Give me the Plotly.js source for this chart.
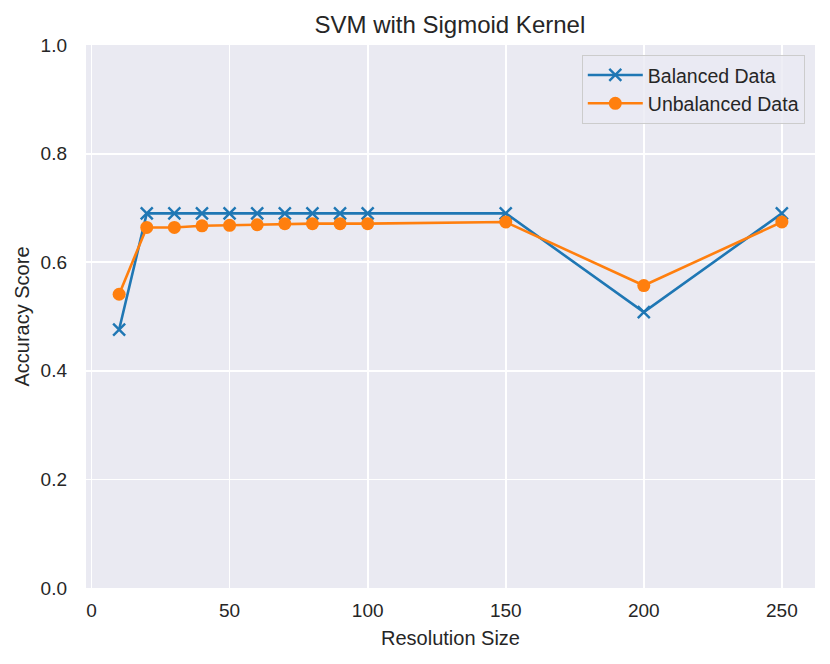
<!DOCTYPE html>
<html>
<head>
<meta charset="utf-8">
<script src="https://cdn.plot.ly/plotly-3.0.1.min.js"></script>
<style>html,body{margin:0;padding:0;background:#fff;}#chart{width:830px;height:664px;}</style>
</head>
<body>
<div id="chart"></div>
<script>
const resolution = [10, 20, 30, 40, 50, 60, 70, 80, 90, 100, 150, 200, 250];
const balanced = [0.476, 0.690, 0.690, 0.690, 0.690, 0.690, 0.690, 0.690, 0.690, 0.690, 0.690, 0.508, 0.690];
const unbalanced = [0.541, 0.664, 0.664, 0.667, 0.668, 0.669, 0.671, 0.671, 0.671, 0.671, 0.674, 0.557, 0.674];
const seriesNames = ["Balanced Data", "Unbalanced Data"];

const font = "Liberation Sans, Arial, sans-serif";
const data = [
  {x: resolution, y: balanced, name: seriesNames[0], mode: "lines+markers",
   line: {color: "#1f77b4", width: 2.6},
   marker: {symbol: "x-thin", size: 12, color: "#1f77b4", line: {color: "#1f77b4", width: 2.4}}},
  {x: resolution, y: unbalanced, name: seriesNames[1], mode: "lines+markers",
   line: {color: "#ff7f0e", width: 2.6},
   marker: {symbol: "circle", size: 13, color: "#ff7f0e"}}
];
const layout = {
  width: 830, height: 664,
  margin: {l: 86, r: 15, t: 45, b: 76},
  paper_bgcolor: "#ffffff", plot_bgcolor: "#EAEAF2",
  font: {family: font, color: "#262626", size: 19},
  title: {text: "SVM with Sigmoid Kernel", font: {size: 24, color: "#262626"}, x: 0.542, xanchor: "center", y: 0.963, yanchor: "middle"},
  xaxis: {range: [-2, 262], tickvals: [0, 50, 100, 150, 200, 250], gridcolor: "#ffffff", gridwidth: 1.8,
          zeroline: false, showline: false, ticks: "", tickfont: {size: 19}, ticklabelstandoff: 9,
          title: {text: "Resolution Size", font: {size: 20}, standoff: 10}},
  yaxis: {range: [0, 1], tickvals: [0, 0.2, 0.4, 0.6, 0.8, 1.0], tickformat: ".1f", gridcolor: "#ffffff", gridwidth: 1.8,
          zeroline: false, showline: false, ticks: "", tickfont: {size: 19}, ticklabelstandoff: 18,
          title: {text: "Accuracy Score", font: {size: 20}, standoff: 5}},
  legend: {x: 0.986, y: 0.982, xanchor: "right", yanchor: "top", bgcolor: "rgba(234,234,242,0.8)",
           bordercolor: "#cccccc", borderwidth: 1, font: {size: 19.5}, itemwidth: 55, tracegroupgap: 0},
  showlegend: true
};
Plotly.newPlot("chart", data, layout, {displayModeBar: false, staticPlot: true});
</script>
</body>
</html>
